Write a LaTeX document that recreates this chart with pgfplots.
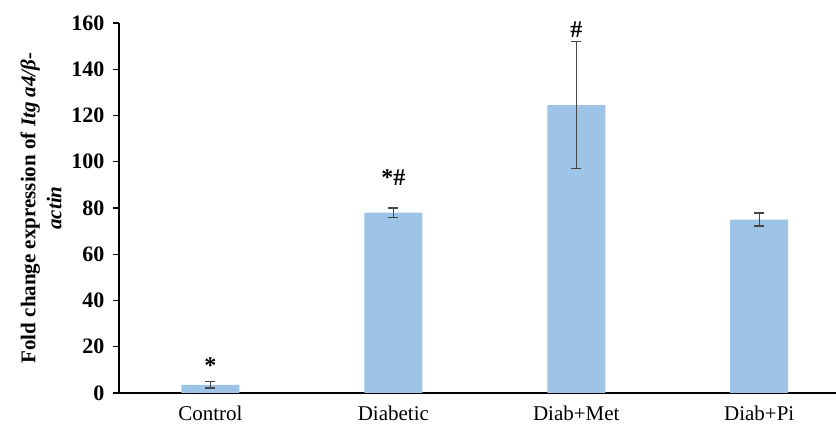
\documentclass[border=0pt]{standalone}
\usepackage{pgfplots}
\pgfplotsset{compat=1.18}
\usepackage{fontspec}
\setmainfont{Liberation Serif}
\usetikzlibrary{calc}
\definecolor{barblue}{RGB}{157,195,230}
\definecolor{errgray}{RGB}{70,70,70}
\begin{document}
\begin{tikzpicture}
\begin{axis}[name=ax, scale only axis, width=717pt, height=370pt,
  xmin=-0.5, xmax=3.42, ymin=0, ymax=160,
  axis lines*=left,
  axis line style={line width=1.6pt, black},
  ytick={0,20,...,160},
  xtick={0,1,2,3}, xticklabels={Control,Diabetic,Diab+Met,Diab+Pi},
  x tick style={draw=none},
  y tick style={line width=1.2pt, black},
  tick align=outside, major tick length=6pt,
  /pgf/number format/assume math mode=true,
  yticklabel style={font=\fontsize{22}{22}\selectfont\bfseries, xshift=-5pt},
  xticklabel style={font=\fontsize{21}{21}\selectfont, yshift=-3pt},
  ylabel={Fold change expression of \textit{Itg a4/β-}\\\textit{actin}},
  ylabel style={align=center, font=\fontsize{21}{26}\selectfont\bfseries},
  ylabel shift=3pt,
  ybar, bar width=58pt,
  clip=false,
]
\addplot[fill=barblue, draw=none,
  error bars/.cd, y dir=both, y explicit,
  error bar style={line width=1.2pt, errgray},
  error mark options={rotate=90, mark size=5pt, line width=1.2pt, errgray}]
  table[x=x, y=y, y error=e]{
x y e
0 3.5 1.3
1 78 2
2 124.5 27.5
3 75 2.8
};
\node[font=\fontsize{24}{24}\selectfont\bfseries] at (axis cs:0,12) {*};
\node[font=\fontsize{24}{24}\selectfont\bfseries] at (axis cs:1,93) {*\#};
\node[font=\fontsize{24}{24}\selectfont\bfseries] at (axis cs:2,157) {\#};
\end{axis}
\pgfresetboundingbox
\path[use as bounding box] ($(ax.south west)+(-119pt,-38pt)$) rectangle ($(ax.north east)+(0pt,23pt)$);
\end{tikzpicture}
\end{document}
